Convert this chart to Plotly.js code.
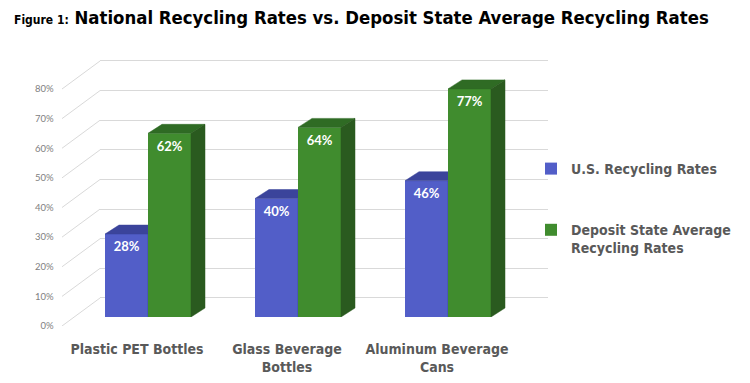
<!DOCTYPE html>
<html><head><meta charset="utf-8">
<script src="https://cdn.plot.ly/plotly-3.0.1.min.js"></script>
<style>html,body{margin:0;padding:0;background:#fff}#chart{width:750px;height:383px}</style>
</head><body><div id="chart"></div>
<script>
// ---- data ----
const categories = ['Plastic PET Bottles', 'Glass Beverage<br>Bottles', 'Aluminum Beverage<br>Cans'];
const usRates = [28, 40, 46];
const depositRates = [62, 64, 77];
const seriesNames = ['U.S. Recycling Rates', 'Deposit State Average<br>Recycling Rates'];
const yTickValues = [0, 10, 20, 30, 40, 50, 60, 70, 80];
const titleLead = 'Figure 1:';
const titleMain = 'National Recycling Rates vs. Deposit State Average Recycling Rates';

// ---- geometry helpers (layout only) ----
const W = 750, H = 383;
const PX_PER_PCT = 2.9625, PX_PER_CAT = 150;
const fx = px => px / W, fy = px => 1 - px / H;
const xDom = (x0, r) => [fx(x0 + r[0] * PX_PER_CAT), fx(x0 + r[1] * PX_PER_CAT)];
const yDom = (y0, r) => [fy(y0 - r[0] * PX_PER_PCT), fy(y0 - r[1] * PX_PER_PCT)];

const FRONT = {x0: 137, y0: 326}, WALL = {x0: 175, y0: 298}, BARS = {x0: 148, y0: 317};
const DEPTH_X = 14 / PX_PER_CAT, DEPTH_Y = 9 / PX_PER_PCT;
const WALL_DX = 38 / PX_PER_CAT, WALL_DY = 28 / PX_PER_PCT;
const barW = 43 / PX_PER_CAT;
const LABEL_DROP = 14 / PX_PER_PCT;

const rWallX = [-0.5, (548 - WALL.x0) / PX_PER_CAT], rWallY = [-1, 81];
const rFrontX = [-0.51, 2.5], rFrontY = [0, 92];
const rBarX = [-0.6, 2.6], rBarY = [0, 90];

const catIdx = categories.map((_, i) => i);
const NARROW = '"DejaVu Sans Condensed", "Liberation Sans Narrow", sans-serif';
const GREY = '#595959';

const colors = {
  blue: {front: '#525ec8', top: '#3b449b', side: '#353d8c'},
  green: {front: '#408c2e', top: '#2f6b24', side: '#2a5a1f'}
};

function faceTraces(vals, offset, col, ax) {
  const top = {x: [], y: []}, side = {x: [], y: []};
  catIdx.forEach((c, i) => {
    const xl = c + offset, xr = xl + barW, v = vals[i];
    top.x.push(xl, xl + DEPTH_X, xr + DEPTH_X, xr, xl, null);
    top.y.push(v, v + DEPTH_Y, v + DEPTH_Y, v, v, null);
    side.x.push(xr, xr + DEPTH_X, xr + DEPTH_X, xr, xr, null);
    side.y.push(0, DEPTH_Y, v + DEPTH_Y, v, 0, null);
  });
  const mk = (d, c) => ({type: 'scatter', mode: 'lines', x: d.x, y: d.y, fill: 'toself', fillcolor: c,
    line: {color: c, width: 0.5}, xaxis: ax[0], yaxis: ax[1], showlegend: false, hoverinfo: 'skip'});
  return [mk(top, col.top), mk(side, col.side)];
}

function barTraces(vals, offset, col, name, ax, grp) {
  return [
    {type: 'bar', x: catIdx, y: vals, width: barW, offset: offset, name: name, legendgroup: grp,
     marker: {color: col.front, line: {width: 0}}, xaxis: ax[0], yaxis: ax[1]},
    ...faceTraces(vals, offset, col, ax),
    {type: 'scatter', mode: 'text', x: catIdx.map(c => c + offset + barW / 2), y: vals.map(v => v - LABEL_DROP),
     text: vals.map(v => v + '%'), textfont: {family: 'Lato, "Open Sans", sans-serif', size: 13, color: '#ffffff', weight: 'bold'},
     xaxis: ax[0], yaxis: ax[1], showlegend: false, hoverinfo: 'skip', cliponaxis: false}
  ];
}

// diagonal grid connectors from front plane to back wall
const diag = {x: [], y: []};
yTickValues.forEach(v => {
  diag.x.push(rFrontX[0] + 0.01, rFrontX[0] + 0.01 + WALL_DX, null);
  diag.y.push(v, v + WALL_DY, null);
});

const data = [
  {type: 'scatter', mode: 'lines', x: [], y: [], xaxis: 'x', yaxis: 'y', showlegend: false, hoverinfo: 'skip'},
  {type: 'scatter', mode: 'lines', x: diag.x, y: diag.y, line: {color: '#d9d9d9', width: 1},
   xaxis: 'x2', yaxis: 'y2', showlegend: false, hoverinfo: 'skip', cliponaxis: false},
  ...barTraces(usRates, -barW, colors.blue, seriesNames[0], ['x3', 'y3'], 'us'),
  ...barTraces(depositRates, 0, colors.green, seriesNames[1], ['x4', 'y4'], 'dep')
];

const hidden = {showgrid: false, zeroline: false, showline: false, showticklabels: false, ticks: '', fixedrange: true};

const layout = {
  width: W, height: H,
  margin: {l: 0, r: 0, t: 0, b: 0, pad: 0},
  paper_bgcolor: '#ffffff', plot_bgcolor: 'rgba(0,0,0,0)',
  showlegend: true,
  hovermode: false,
  title: {
    text: '<span style="font-size:12px">' + titleLead + '</span> ' + titleMain,
    x: fx(14), xanchor: 'left', xref: 'paper', y: fy(18), yanchor: 'middle', yref: 'paper',
    font: {family: NARROW, size: 18.4, color: '#000000', weight: 'bold'}
  },
  // back wall
  xaxis: Object.assign({}, hidden, {domain: xDom(WALL.x0, rWallX), range: rWallX, anchor: 'y'}),
  yaxis: Object.assign({}, hidden, {domain: yDom(WALL.y0, rWallY), range: rWallY, anchor: 'x',
    showgrid: true, gridcolor: '#d9d9d9', gridwidth: 1, tickvals: yTickValues}),
  // front plane: category + percent labels
  xaxis2: Object.assign({}, hidden, {domain: xDom(FRONT.x0, rFrontX), range: rFrontX, anchor: 'y2',
    showticklabels: true, tickvals: catIdx, ticktext: categories, tickangle: 0,
    ticks: 'outside', ticklen: 10, tickcolor: 'rgba(0,0,0,0)',
    tickfont: {family: NARROW, size: 14, color: GREY, weight: 'bold'}}),
  yaxis2: Object.assign({}, hidden, {domain: yDom(FRONT.y0, rFrontY), range: rFrontY, anchor: 'x2',
    showticklabels: true, tickvals: yTickValues, ticktext: yTickValues.map(v => v + '%'),
    ticks: 'outside', ticklen: 4, tickcolor: 'rgba(0,0,0,0)',
    tickfont: {family: 'Lato, "Open Sans", sans-serif', size: 9.5, color: '#808080'}}),
  // bars
  xaxis3: Object.assign({}, hidden, {domain: xDom(BARS.x0, rBarX), range: rBarX, anchor: 'y3'}),
  yaxis3: Object.assign({}, hidden, {domain: yDom(BARS.y0, rBarY), range: rBarY, anchor: 'x3'}),
  xaxis4: Object.assign({}, hidden, {domain: xDom(BARS.x0, rBarX), range: rBarX, anchor: 'y4'}),
  yaxis4: Object.assign({}, hidden, {domain: yDom(BARS.y0, rBarY), range: rBarY, anchor: 'x4'}),
  legend: {
    x: fx(531), xanchor: 'left', y: fy(153), yanchor: 'top',
    traceorder: 'grouped', tracegroupgap: 40, valign: 'top',
    font: {family: NARROW, size: 14, color: GREY, weight: 'bold'},
    bgcolor: 'rgba(0,0,0,0)', borderwidth: 0
  }
};

Plotly.newPlot('chart', data, layout, {displayModeBar: false, staticPlot: true});
</script>
</body></html>
